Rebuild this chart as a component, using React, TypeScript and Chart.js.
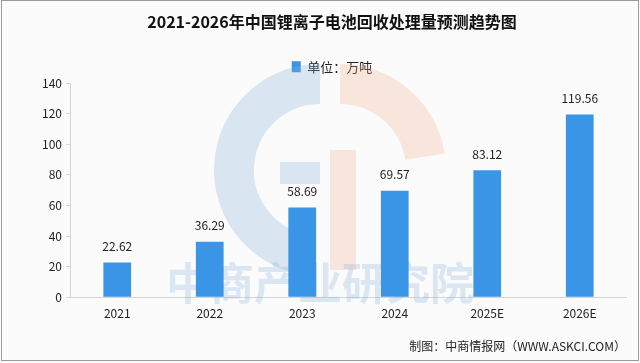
import React, { useEffect, useRef } from "react";
import { Chart, registerables } from "chart.js";

Chart.register(...registerables);

const categories = ["2021", "2022", "2023", "2024", "2025E", "2026E"];
const values = [22.62, 36.29, 58.69, 69.57, 83.12, 119.56];
const titleText = "2021-2026年中国锂离子电池回收处理量预测趋势图";
const seriesName = "单位：万吨";
const footerText = "制图：中商情报网（WWW.ASKCI.COM）";
const watermarkText = "中商产业研究院";

const FONT = "'Noto Sans CJK SC', 'Noto Sans', sans-serif";

const watermarkPlugin = {
  id: "watermark",
  beforeDatasetsDraw(chart: any) {
    const ctx = chart.ctx;
    ctx.save();
    const cx = 320, cy = 170, r = 86;
    ctx.strokeStyle = "rgba(130,175,215,0.28)";
    ctx.lineWidth = 40;
    ctx.beginPath();
    ctx.arc(cx, cy, r, Math.PI * 0.55, Math.PI * 1.5);
    ctx.stroke();
    ctx.strokeStyle = "rgba(240,175,145,0.28)";
    ctx.beginPath();
    ctx.arc(cx + 20, cy, r, -Math.PI * 0.5, -Math.PI * 0.05);
    ctx.stroke();
    ctx.fillStyle = "rgba(240,175,145,0.28)";
    ctx.fillRect(cx + 10, cy - 20, 26, 120);
    ctx.fillStyle = "rgba(130,175,215,0.28)";
    ctx.fillRect(cx - 40, cy - 8, 40, 22);
    ctx.font = `bold 44px ${FONT}`;
    ctx.fillStyle = "rgba(120,170,215,0.25)";
    ctx.textAlign = "center";
    ctx.textBaseline = "middle";
    ctx.fillText(watermarkText, 320, 283);
    ctx.restore();
  },
};

const labelPlugin = {
  id: "barLabels",
  afterDatasetsDraw(chart: any) {
    const ctx = chart.ctx;
    const meta = chart.getDatasetMeta(0);
    ctx.save();
    ctx.font = `12px ${FONT}`;
    ctx.fillStyle = "#222";
    ctx.textAlign = "center";
    ctx.textBaseline = "bottom";
    meta.data.forEach((bar: any, i: number) => {
      ctx.fillText(values[i].toFixed(2), bar.x, bar.y - 10);
    });
    ctx.restore();
  },
};

const framePlugin = {
  id: "frame",
  beforeDraw(chart: any) {
    const ctx = chart.ctx;
    ctx.save();
    ctx.fillStyle = "#fbfbfb";
    ctx.fillRect(0, 0, chart.width, chart.height);
    ctx.strokeStyle = "#9a9a9a";
    ctx.lineWidth = 1;
    ctx.strokeRect(1.5, 0.5, chart.width - 3, chart.height - 3);
    ctx.restore();
  },
};

export default function App() {
  const ref = useRef<HTMLCanvasElement>(null);
  useEffect(() => {
    if (!ref.current) return;
    const chart = new Chart(ref.current, {
      type: "bar",
      data: {
        labels: categories,
        datasets: [
          {
            label: seriesName,
            data: values,
            backgroundColor: "#3b95e6",
            barPercentage: 0.6,
            categoryPercentage: 0.5,
          },
        ],
      },
      options: {
        responsive: false,
        animation: false,
        layout: { padding: { left: 38, right: 14, top: 4, bottom: 4 } },
        plugins: {
          title: {
            display: true,
            text: titleText,
            color: "#111",
            font: { family: FONT, size: 16, weight: "bold" },
            padding: { top: 8, bottom: 28 },
          },
          legend: {
            display: true,
            labels: {
              color: "#222",
              font: { family: FONT, size: 13, lineHeight: 1.0 },
              boxWidth: 9,
              boxHeight: 11,
              padding: 1,
            },
          },
          subtitle: {
            display: true,
            text: footerText,
            position: "bottom",
            align: "end",
            color: "#222",
            font: { family: FONT, size: 12 },
            padding: { top: 10, bottom: 5 },
          },
          tooltip: { enabled: false },
        },
        scales: {
          x: {
            grid: { display: false, drawTicks: false },
            border: { display: true, color: "#d4d4d4" },
            ticks: { color: "#222", font: { family: FONT, size: 12 }, padding: 9 },
          },
          y: {
            min: 0,
            max: 140,
            ticks: { stepSize: 20, color: "#222", font: { family: FONT, size: 12 }, padding: 4 },
            grid: { drawOnChartArea: false, drawTicks: true, tickLength: 5, color: "#d4d4d4" },
            border: { display: true, color: "#d4d4d4" },
          },
        },
      },
      plugins: [framePlugin, watermarkPlugin, labelPlugin],
    } as any);
    return () => chart.destroy();
  }, []);
  return (
    <div style={{ position: "fixed", left: 0, top: 0, width: 640, height: 363 }}>
      <canvas ref={ref} width={640} height={363} style={{ display: "block" }} />
    </div>
  );
}
